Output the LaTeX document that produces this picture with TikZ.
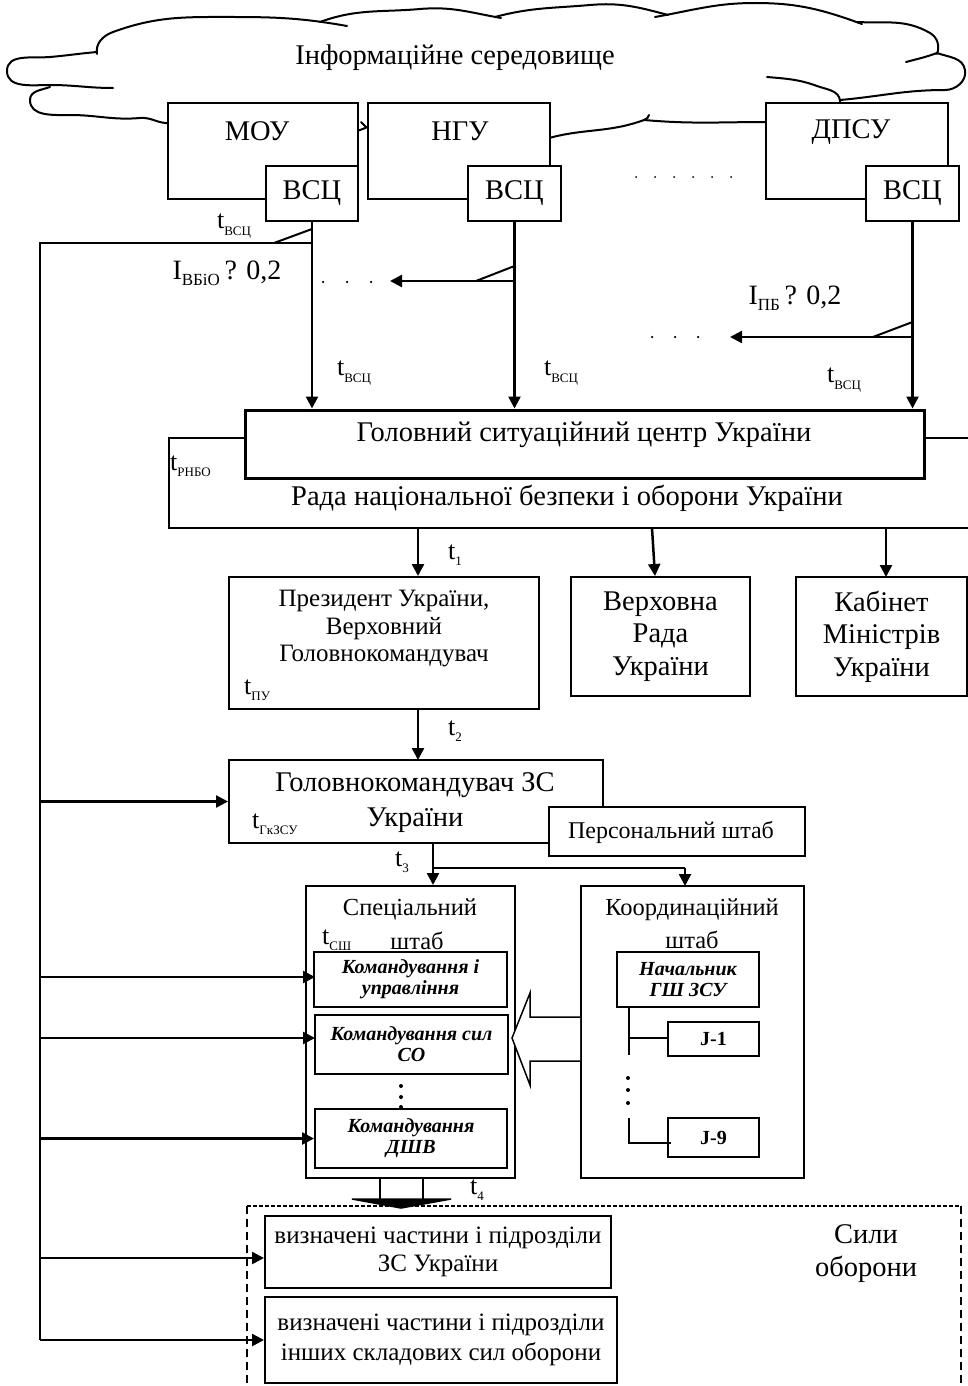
\documentclass[tikz,border=0pt]{standalone}
\usepackage{fontspec}
\setmainfont{Liberation Serif}
\usetikzlibrary{arrows.meta}
\newcommand\tsub[1]{t\raisebox{-0.25em}{\fontsize{13}{13}\selectfont #1}}
\begin{document}
\begin{tikzpicture}[x=1pt,y=-1pt,
  box/.style={draw, line width=2pt, fill=white, inner sep=0pt},
  big/.style={font=\fontsize{28.5}{33}\selectfont, inner sep=0pt, align=center},
  mid/.style={font=\fontsize{25}{27.5}\selectfont, inner sep=0pt, align=center},
  bi/.style={font=\fontsize{20}{21}\selectfont\bfseries\itshape, inner sep=0pt, align=center},
  arr/.style={line width=2.5pt, -{Triangle[length=12pt,width=12pt]}},
  ln/.style={line width=2.5pt},
  cl/.style={line width=2pt, line cap=round},
  lab/.style={font=\fontsize{26}{30}\selectfont, inner sep=0pt},
  dotn/.style={circle, fill=black, inner sep=0pt, minimum size=2.5pt},
]
\useasboundingbox (0,0) rectangle (967,1386);

% ---------- cloud ----------
\draw[cl] (97,52) to[out=185,in=5] (50,57) to[out=185,in=90] (7,71) to[out=-90,in=180] (50,85) to[out=0,in=180] (113,88);
\draw[cl] (50,87) to[out=200,in=90] (30,100) to[out=-90,in=180] (70,115) to[out=0,in=185] (140,118) to[out=5,in=185] (170,123);
\draw[cl] (97,54) to[out=100,in=200] (113,32) to[out=20,in=180] (233,17) to[out=0,in=170] (347,26);
\draw[cl] (320,22) to[out=20,in=185] (420,9) to[out=5,in=170] (501,18);
\draw[cl] (495,17) to[out=15,in=185] (590,5) to[out=5,in=165] (668,15);
\draw[cl] (655,17) to[out=10,in=180] (755,3) to[out=0,in=160] (862,24);
\draw[cl] (857,22) to[out=-3,in=150] (930,33) to[out=-30,in=70] (937,54);
\draw[cl] (906,62) to[out=15,in=200] (937,53);
\draw[cl] (937,53) to[out=-20,in=100] (965,70) to[out=-80,in=0] (945,90) to[out=180,in=5] (840,100) -- (840,106);
\draw[cl] (767,77) to[out=-5,in=160] (817,86) to[out=-20,in=95] (840,101);
\draw[cl] (549,138) to[out=15,in=200] (644,120) to[out=20,in=-100] (649,115);
\draw[cl] (644,120) to[out=-5,in=180] (768,122);
\draw[cl] (356,131) to[out=10,in=200] (370,126);
\draw[cl] (361,122) -- (366,127);
\node[big] (env) at (455,58) {Інформаційне середовище};

% ---------- agencies ----------
\node[box, minimum width=190pt, minimum height=96pt] (mou) at (263,151) {};
\node[box, minimum width=182pt, minimum height=96pt] (ngu) at (459,151) {};
\node[box, minimum width=182pt, minimum height=96pt] (dpsu) at (857,151) {};
\node[big] (moutxt) at (257,131) {МОУ};
\node[big] (ngutxt) at (460,131) {НГУ};
\node[big] (dpsutxt) at (851,132) {ДПСУ};
\node[box, minimum width=92pt, minimum height=55pt, big] (vcs1) at (312,193.5) {ВСЦ};
\node[box, minimum width=93pt, minimum height=55pt, big] (vcs2) at (514.5,193.5) {ВСЦ};
\node[box, minimum width=93pt, minimum height=55pt, big] (vcs3) at (912.5,193.5) {ВСЦ};
\foreach \i/\x in {1/636,2/655,3/674,4/693,5/712,6/731} \node[dotn, minimum size=2pt] (hd\i) at (\x,177) {};

% ---------- РНБО / ГСЦ ----------
\node[box, minimum width=800pt, minimum height=90pt] (rnbo) at (569,483) {};
\node[box, line width=3pt, minimum width=679pt, minimum height=68pt] (gsc) at (584.5,444) {};
\node[big] (gsctxt) at (584,435) {Головний ситуаційний центр України};
\node[big] (rnbotxt) at (567,498) {Рада національної безпеки і оборони України};
\node[lab, anchor=west] (trnbo) at (170,466) {\tsub{РНБО}};

% ---------- links from ВСЦ ----------
\coordinate (L0) at (40,243);
\draw[arr] (vcs1.south) -- (vcs1.south |- gsc.north);
\draw[arr] (vcs2.south) -- (vcs2.south |- gsc.north);
\draw[arr] (vcs3.south) -- (vcs3.south |- gsc.north);
\draw[line width=2pt] (vcs1.south |- L0) -- (L0) -- (40,1340);
\draw[line width=2pt] (274,243) -- (312,229);
\coordinate (b2) at (514.5,281);
\coordinate (a2) at (390,281);
\draw[arr] (b2) -- (a2);
\draw[line width=2pt] (476,281) -- (514.5,266);
\coordinate (b3) at (912.5,337);
\coordinate (a3) at (730,337);
\draw[arr] (b3) -- (a3);
\draw[line width=2pt] (873,337) -- (912.5,322);
\foreach \i/\x in {1/323,2/347,3/371} \node[dotn] (ld\i) at (\x,282) {};
\foreach \i/\x in {1/652,2/675,3/698} \node[dotn] (rd\i) at (\x,337) {};
\node[lab] (tv1) at (234,226) {\tsub{ВСЦ}};
\node[lab] (tv2) at (354,373) {\tsub{ВСЦ}};
\node[lab] (tv3) at (561,373) {\tsub{ВСЦ}};
\node[lab] (tv4) at (844,380) {\tsub{ВСЦ}};
\node[lab, font=\fontsize{28}{30}\selectfont] (ivbio) at (227,273) {I\raisebox{-0.2em}{\fontsize{17}{17}\selectfont ВБіО}\,? 0,2};
\node[lab, font=\fontsize{28}{30}\selectfont] (ipb) at (795,298) {I\raisebox{-0.2em}{\fontsize{17}{17}\selectfont ПБ}\,? 0,2};

% ---------- second level ----------
\node[box, minimum width=310pt, minimum height=132pt] (pres) at (384,643) {};
\node[mid] (prestxt) at (384,629) {Президент України,\\Верховний\\Головнокомандувач};
\node[lab, anchor=west] (tpu) at (244,690) {\tsub{ПУ}};
\node[box, minimum width=179pt, minimum height=119pt, big, font=\fontsize{28.5}{32.5}\selectfont] (vr) at (660.5,636.5) {Верховна\\Рада\\України};
\node[box, minimum width=171pt, minimum height=119pt, big, font=\fontsize{28.5}{32.5}\selectfont] (km) at (881.5,636.5) {Кабінет\\Міністрів\\України};
\draw[arr] (pres.north |- rnbo.south) ++(34,0) coordinate (r1) (r1) -- (r1 |- pres.north);
\draw[arr] (652,528) -- (vr.north -| 655,0);
\draw[arr] (886,528) -- (886,577);
\node[lab] (t1) at (455,555) {\tsub{1}};

% ---------- ГкЗСУ ----------
\node[box, minimum width=374pt, minimum height=83pt] (gk) at (416,801.5) {};
\node[big, font=\fontsize{28.5}{35}\selectfont] (gktxt) at (415,803) {Головнокомандувач ЗС\\України};
\node[lab, anchor=west] (tgk) at (252,824) {\tsub{ГкЗСУ}};
\node[box, minimum width=256pt, minimum height=49pt] (ps) at (677,831.5) {};
\node[font=\fontsize{24}{28}\selectfont, inner sep=0pt] (pstxt) at (671,832) {Персональний штаб};
\draw[arr] (418,709) -- (418,760);
\node[lab] (t2) at (455,731) {\tsub{2}};
\draw[arr] (L0 |- gk.west) -- (gk.west);

% ---------- staffs ----------
\node[box, minimum width=209pt, minimum height=292pt] (sp) at (410.5,1032) {};
\node[box, minimum width=223pt, minimum height=292pt] (ks) at (692.5,1032) {};
\coordinate (g3) at (433,843);
\coordinate (br) at (433,868);
\draw[arr] (g3) -- (g3 |- sp.north);
\draw[ln] (br) -- (685,868);
\draw[arr] (685,868) -- (685,886);
\node[lab] (t3) at (402,862) {\tsub{3}};
\node[font=\fontsize{24.5}{28}\selectfont, inner sep=0pt] (sptxt1) at (410,909) {Спеціальний};
\node[font=\fontsize{24.5}{28}\selectfont, inner sep=0pt] (sptxt2) at (417,941) {штаб};
\node[lab, anchor=west] (tsh) at (322,940) {\tsub{СШ}};
\node[box, minimum width=193pt, minimum height=55pt, bi] (ib1) at (410.5,979.5) {Командування і\\управління};
\node[box, minimum width=193pt, minimum height=59pt, bi] (ib2) at (411.5,1044.5) {Командування сил\\СО};
\node[box, minimum width=192pt, minimum height=59pt, bi] (ib3) at (411,1138.5) {Командування\\ДШВ};
\foreach \i/\y in {1/1086,2/1097,3/1107} \node[dotn, minimum size=4pt] (vd\i) at (401,\y) {};
\draw[arr] (L0 |- ib1.west) ++(0,-2.5) -- ++(275,0);
\draw[arr] (L0 |- ib2.west) ++(0,-6.5) -- ++(275,0);
\draw[arr] (L0 |- ib3.west) -- (ib3.west);

\node[font=\fontsize{24.5}{28}\selectfont, inner sep=0pt] (kstxt1) at (692,910) {Координаційний};
\node[font=\fontsize{24.5}{28}\selectfont, inner sep=0pt] (kstxt2) at (692,940) {штаб};
\node[box, minimum width=142pt, minimum height=55pt, bi] (ngs) at (688,979.5) {Начальник\\ГШ ЗСУ};
\node[box, minimum width=91pt, minimum height=34pt, bi, font=\fontsize{20}{21}\selectfont\bfseries] (j1) at (713.5,1039) {J-1};
\node[box, minimum width=91pt, minimum height=39pt, bi, font=\fontsize{20}{21}\selectfont\bfseries] (j9) at (713.5,1137.5) {J-9};
\draw[line width=2pt] (629,1007) -- (629,1055);
\draw[line width=2pt] (629,1038) -- (j1.west |- 0,1038);
\draw[line width=2pt] (629,1118) -- (629,1143) -- (671,1143);
\foreach \i/\y in {1/1078,2/1090,3/1103} \node[dotn, minimum size=4pt] (kd\i) at (628,\y) {};
\draw[line width=1.5pt, fill=white] (ks.west |- 0,1017) -- (530,1017) -- (530,993) -- (512,1038) -- (530,1085) -- (530,1061) -- (ks.west |- 0,1061);

% ---------- defence forces ----------
\draw[line width=2.5pt] (380,1178) -- (380,1200) (423,1178) -- (423,1200);
\draw[line width=1.5pt, fill=black] (352,1199) -- (451,1199) -- (401,1208) -- cycle;
\node[lab] (t4) at (477,1190) {\tsub{4}};
\draw[line width=1.8pt, dash pattern=on 4pt off 2pt] (247,1206) -- (961,1206);
\draw[line width=1.5pt, dash pattern=on 8pt off 5pt] (247,1206) -- (247,1390);
\draw[line width=1.5pt, dash pattern=on 8pt off 5pt] (961,1206) -- (961,1390);
\node[big] (sily) at (866,1254) {Сили\\оборони};
\node[box, minimum width=346pt, minimum height=72pt, mid, font=\fontsize{25}{28}\selectfont] (vz1) at (438,1252) {визначені частини і підрозділи\\ЗС України};
\node[box, minimum width=352pt, minimum height=86pt, mid, font=\fontsize{25}{30}\selectfont] (vz2) at (441,1340) {визначені частини і підрозділи\\інших складових сил оборони};
\draw[arr] (L0 |- 0,1258) -- (vz1.west |- 0,1258);
\draw[arr] (L0 |- vz2.west) -- (vz2.west);
\end{tikzpicture}
\end{document}
